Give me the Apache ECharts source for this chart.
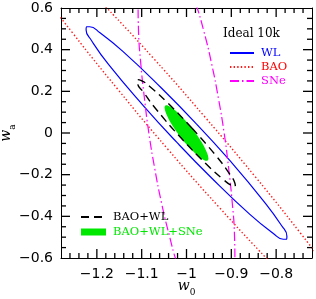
<!DOCTYPE html>
<html><head><meta charset="utf-8">
<script src="https://cdn.jsdelivr.net/npm/echarts@6/dist/echarts.min.js"></script>
<style>html,body{margin:0;padding:0;background:#fff}#c{width:316px;height:299px}</style>
</head><body><div id="c"></div>
<script>
// tick values
const xTicks = [-1.2, -1.1, -1, -0.9, -0.8];
const xMinorTicks = [-1.26, -1.24, -1.22, -1.18, -1.16, -1.14, -1.12, -1.08, -1.06, -1.04, -1.02,
  -0.98, -0.96, -0.94, -0.92, -0.88, -0.86, -0.84, -0.82, -0.78, -0.76, -0.74];
const yTicks = [-0.6, -0.4, -0.2, 0, 0.2, 0.4, 0.6];
const yMinorTicks = [-0.55, -0.5, -0.45, -0.35, -0.3, -0.25, -0.15, -0.1, -0.05,
  0.05, 0.1, 0.15, 0.25, 0.3, 0.35, 0.45, 0.5, 0.55];

// contours [w0, wa]
const wlContour = [
  [-0.978, 0.044], [-1.056, 0.216], [-1.142, 0.392], [-1.193, 0.481], [-1.216, 0.510],
  [-1.223, 0.510], [-1.224, 0.495], [-1.212, 0.444], [-1.174, 0.329], [-1.097, 0.133],
  [-1.022, -0.044], [-0.944, -0.216], [-0.858, -0.392], [-0.807, -0.481], [-0.784, -0.510],
  [-0.777, -0.510], [-0.776, -0.495], [-0.788, -0.444], [-0.827, -0.329], [-0.903, -0.133],
  [-0.978, 0.044]
];
const baoContour = [
  [-0.563, -1.092], [-0.601, -0.907], [-0.662, -0.718], [-0.746, -0.480], [-0.847, -0.209],
  [-0.959, 0.077], [-1.073, 0.357], [-1.183, 0.612], [-1.280, 0.826], [-1.358, 0.984],
  [-1.437, 1.092], [-1.399, 0.907], [-1.338, 0.718], [-1.254, 0.480], [-1.153, 0.209],
  [-1.042, -0.077], [-0.927, -0.357], [-0.817, -0.612], [-0.720, -0.826], [-0.642, -0.984],
  [-0.563, -1.092]
];
const sneContour = [
  [-0.932, -0.972], [-0.899, -0.842], [-0.892, -0.625], [-0.893, -0.486], [-0.898, -0.333],
  [-0.906, -0.169], [-0.916, 0.000], [-0.929, 0.169], [-0.944, 0.333], [-0.961, 0.486],
  [-0.980, 0.625], [-1.017, 0.842], [-1.068, 0.972], [-1.101, 0.842], [-1.108, 0.625],
  [-1.107, 0.486], [-1.102, 0.333], [-1.094, 0.169], [-1.084, 0.000], [-1.071, -0.169],
  [-1.056, -0.333], [-1.039, -0.486], [-1.021, -0.625], [-0.983, -0.842], [-0.932, -0.972]
];
const baoWlContour = [
  [-0.988, 0.024], [-1.044, 0.149], [-1.082, 0.223], [-1.102, 0.253], [-1.109, 0.256],
  [-1.109, 0.241], [-1.096, 0.196], [-1.065, 0.107], [-1.012, -0.024], [-0.956, -0.149],
  [-0.918, -0.223], [-0.898, -0.253], [-0.891, -0.256], [-0.892, -0.241], [-0.904, -0.196],
  [-0.935, -0.107], [-0.988, 0.024]
];
const allContour = [
  [-0.987, 0.021], [-1.013, 0.084], [-1.032, 0.120], [-1.043, 0.133], [-1.047, 0.132],
  [-1.049, 0.122], [-1.046, 0.096], [-1.035, 0.048], [-1.013, -0.021], [-0.987, -0.084],
  [-0.969, -0.120], [-0.958, -0.133], [-0.953, -0.132], [-0.951, -0.122], [-0.954, -0.096],
  [-0.965, -0.048]
];

const fmt = v => (Math.abs(v) < 1e-9 ? '0' : String(+v.toFixed(2))).replace('-', '\u2212');
const BLACK = '#000';
const XMIN = -1.28, XMAX = -0.72, YMIN = -0.6, YMAX = 0.6;
const GL = 61, GR = 4, GT = 8, GB = 41, W = 316, H = 299;
const PX_X = (XMAX - XMIN) / (W - GL - GR);
const PX_Y = (YMAX - YMIN) / (H - GT - GB);
const lineOn = { show: true, onZero: false, lineStyle: { color: BLACK, width: 1 } };
const richName = {
  w: { fontFamily: 'DejaVu Serif', fontStyle: 'italic', fontSize: 14, color: BLACK, lineHeight: 18, verticalAlign: 'top' },
  s: { fontFamily: 'DejaVu Serif', fontSize: 9, color: BLACK, lineHeight: 18, verticalAlign: 'bottom' }
};

function baseX(pos) {
  return { type: 'value', min: XMIN, max: XMAX, position: pos,
    axisLine: lineOn, axisTick: { show: false },
    axisLabel: { show: false }, splitLine: { show: false } };
}
function baseY(pos) {
  return { type: 'value', min: YMIN, max: YMAX, interval: 0.2, position: pos,
    axisLine: lineOn, axisTick: { show: false },
    axisLabel: { show: false }, splitLine: { show: false } };
}
const xMain = baseX('bottom');
xMain.axisLabel = { show: true, customValues: xTicks, formatter: fmt, color: BLACK,
  fontFamily: 'DejaVu Sans', fontSize: 14, margin: 9 };
Object.assign(xMain, { name: '{w|w}{s|0}', nameLocation: 'middle', nameGap: 21, nameMoveOverlap: false,
  nameTextStyle: { rich: richName } });
const yMain = baseY('left');
yMain.axisLabel = { show: true, customValues: yTicks, formatter: fmt, color: BLACK,
  fontFamily: 'DejaVu Sans', fontSize: 14, margin: 8 };
Object.assign(yMain, { name: '{w|w}{s|a}', nameLocation: 'middle', nameRotate: 90, nameGap: 44, nameMoveOverlap: false,
  nameTextStyle: { rich: richName } });

// tick marks: short segments drawn as line series through the axes' scales
function tickLine(p1, p2) {
  return { type: 'line', data: [p1, p2], symbol: 'none', clip: false,
    lineStyle: { color: BLACK, width: 1.3 } };
}
const tickSeries = [];
[[xTicks, 9], [xMinorTicks, 5]].forEach(([vals, len]) => vals.forEach(v => {
  tickSeries.push(tickLine([v, YMIN], [v, YMIN + len * PX_Y]));
  tickSeries.push(tickLine([v, YMAX], [v, YMAX - len * PX_Y]));
}));
[[yTicks.slice(1, -1), 9], [yMinorTicks, 5]].forEach(([vals, len]) => vals.forEach(v => {
  tickSeries.push(tickLine([XMIN, v], [XMIN + len * PX_X, v]));
  tickSeries.push(tickLine([XMAX, v], [XMAX - len * PX_X, v]));
}));

const chart = echarts.init(document.getElementById('c'), null, { renderer: 'canvas' });
const legendFont = { fontFamily: 'DejaVu Serif', fontSize: 11.5, padding: [0, 0, 0, 2] };
chart.setOption({
  animation: false,
  backgroundColor: '#fff',
  title: { text: 'Ideal 10k', left: 223, top: 28, padding: 0,
    textStyle: { fontFamily: 'DejaVu Serif', fontSize: 12, fontWeight: 'normal', color: BLACK } },
  grid: { left: GL, right: GR, top: GT, bottom: GB, containLabel: false, outerBoundsMode: 'none' },
  xAxis: [xMain, baseX('top')],
  yAxis: [yMain, baseY('right')],
  legend: [
    { orient: 'vertical', left: 229, top: 47, padding: 0, itemWidth: 24, itemHeight: 8, itemGap: 2, selectedMode: false,
      textStyle: legendFont,
      data: [
        { name: 'WL', textStyle: { color: '#0000ff' }, itemStyle: { opacity: 0 } },
        { name: 'BAO', textStyle: { color: '#ff0000' }, itemStyle: { opacity: 0 } },
        { name: 'SNe', textStyle: { color: '#ff00ff' }, itemStyle: { opacity: 0 } }
      ] },
    { orient: 'vertical', left: 80, top: 211, padding: 0, itemWidth: 25, itemHeight: 7, itemGap: 3, selectedMode: false,
      textStyle: legendFont,
      data: [
        { name: 'BAO+WL', textStyle: { color: BLACK }, itemStyle: { opacity: 0 } },
        { name: 'BAO+WL+SNe', icon: 'rect', textStyle: { color: '#00e800' }, itemStyle: { color: '#00e800' } }
      ] }
  ],
  series: [
    { type: 'custom', name: 'BAO+WL+SNe', data: allContour, z: 1, clip: true,
      itemStyle: { color: '#00e800' },
      encode: { x: 0, y: 1 },
      renderItem: (params, api) => {
        if (params.dataIndex !== 0) return null;
        return { type: 'polygon', shape: { points: allContour.map(p => api.coord(p)), smooth: 0.35 },
          style: { fill: '#00e800', stroke: null } };
      } },
    { type: 'line', name: 'WL', data: wlContour, smooth: 0.5, symbol: 'none', z: 3,
      lineStyle: { color: '#0000ff', width: 1.2 }, itemStyle: { color: '#0000ff' } },
    { type: 'line', name: 'BAO', data: baoContour, smooth: 0.5, symbol: 'none', z: 3,
      lineStyle: { color: '#ff1a1a', width: 1.4, type: [1.4, 2.2] }, itemStyle: { color: '#ff1a1a' } },
    { type: 'line', name: 'SNe', data: sneContour, smooth: 0.5, symbol: 'none', z: 3,
      lineStyle: { color: '#ff00ff', width: 1.2, type: [9, 3, 1.5, 3] }, itemStyle: { color: '#ff00ff' } },
    { type: 'line', name: 'BAO+WL', data: baoWlContour, smooth: 0.5, symbol: 'none', z: 4,
      lineStyle: { color: BLACK, width: 1.4, type: [8, 5] }, itemStyle: { color: BLACK } }
  ].concat(tickSeries)
});
</script>
</body></html>
